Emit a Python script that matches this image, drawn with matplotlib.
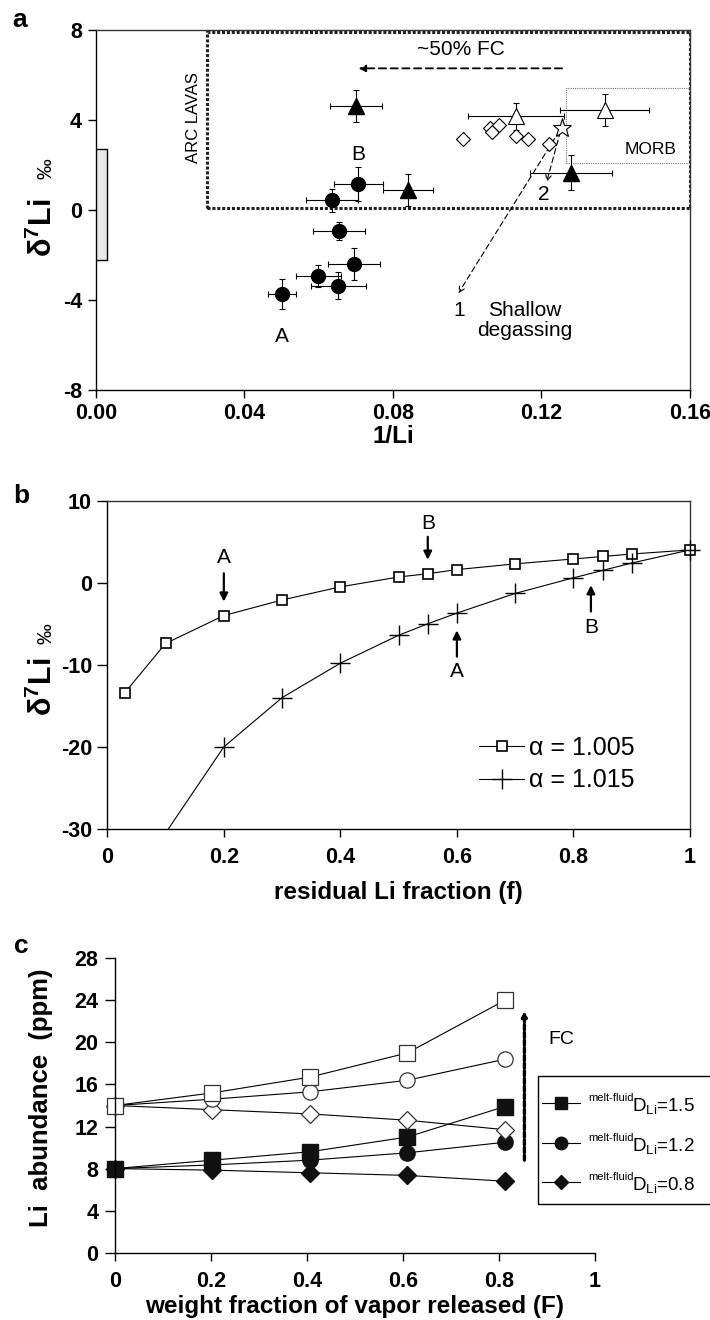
import numpy as np
import matplotlib.pyplot as plt
from matplotlib.patches import Rectangle
from matplotlib.lines import Line2D

plt.rcParams['font.family'] = ['Liberation Sans', 'DejaVu Sans']
plt.rcParams['mathtext.fontset'] = 'custom'
plt.rcParams['mathtext.rm'] = 'Liberation Sans'
plt.rcParams['mathtext.bf'] = 'Liberation Sans:bold'
plt.rcParams['mathtext.it'] = 'Liberation Sans:italic'

# ---- panel a: d7Li vs 1/Li ----
circ_x = [0.0500, 0.0599, 0.0653, 0.0695, 0.0655, 0.0635, 0.0707]
circ_y = [-3.73, -2.92, -3.36, -2.40, -0.93, 0.43, 1.17]
circ_xerr = [0.0038, 0.0060, 0.0073, 0.0070, 0.0070, 0.0070, 0.0065]
circ_yerr = [0.65, 0.50, 0.60, 0.70, 0.40, 0.50, 0.75]

tri_x = [0.0700, 0.0841, 0.1280]
tri_y = [4.62, 0.89, 1.66]
tri_xerr = [0.0070, 0.0068, 0.0110]
tri_yerr = [0.70, 0.70, 0.78]

otri_x = [0.1131, 0.1370]
otri_y = [4.18, 4.44]
otri_xerr = [0.0129, 0.0119]
otri_yerr = [0.60, 0.70]

dia_x = [0.0988, 0.1061, 0.1068, 0.1086, 0.1131, 0.1165, 0.1219]
dia_y = [3.14, 3.63, 3.48, 3.76, 3.29, 3.14, 2.93]

star_x, star_y = 0.1254, 3.67

# ---- panel b: Rayleigh curves ----
f_a = [0.03, 0.1, 0.2, 0.3, 0.4, 0.5, 0.55, 0.6, 0.7, 0.8, 0.85, 0.9, 1.0]
d_a = [-13.4, -7.4, -4.0, -2.1, -0.5, 0.7, 1.1, 1.6, 2.3, 2.9, 3.2, 3.5, 4.0]
f_b = [0.1, 0.2, 0.3, 0.4, 0.5, 0.55, 0.6, 0.7, 0.8, 0.85, 0.9, 1.0]
d_b = [-30.5, -20.0, -14.0, -9.8, -6.4, -5.0, -3.7, -1.3, 0.6, 1.5, 2.4, 4.0]

# ---- panel c: Li abundance vs vapor fraction ----
F = [0, 0.203, 0.406, 0.609, 0.812]
open_sq = [14.0, 15.2, 16.7, 19.0, 24.0]
open_ci = [14.0, 14.6, 15.3, 16.4, 18.4]
open_di = [14.0, 13.6, 13.2, 12.6, 11.7]
fill_sq = [8.0, 8.8, 9.6, 11.0, 13.9]
fill_ci = [8.0, 8.35, 8.8, 9.5, 10.5]
fill_di = [8.0, 7.85, 7.6, 7.35, 6.8]
leg_c = ['1.5', '1.2', '0.8']

TICK = dict(fontsize=15.5, fontweight='bold')
LAB = dict(fontsize=17.5, fontweight='bold')
NOTE = 15

fig = plt.figure(figsize=(7.1, 13.2), dpi=100)
ax_a = fig.add_axes([0.1352, 0.7045, 0.8366, 0.2727])
ax_b = fig.add_axes([0.1511, 0.372, 0.8207, 0.2487])
ax_c = fig.add_axes([0.162, 0.051, 0.676, 0.223])

for ax in (ax_a, ax_b, ax_c):
    ax.tick_params(direction='out', length=6, width=1, pad=4)
    for s in ax.spines.values():
        s.set_linewidth(1)


def delta_label(ax, x, y_d, y_pm):
    ax.text(x, y_d, r'$\mathbf{\delta^{7}Li}$', transform=ax.transAxes, rotation=90,
            ha='center', va='center', fontsize=22)
    ax.text(x + 0.004, y_pm, '‰', transform=ax.transAxes, rotation=90,
            ha='center', va='center', fontsize=15)


# panel a
ax_a.set_xlim(0, 0.16)
ax_a.set_ylim(-8, 8)
ax_a.set_xticks([0, 0.04, 0.08, 0.12, 0.16])
ax_a.set_xticklabels(['0.00', '0.04', '0.08', '0.12', '0.16'], **TICK)
ax_a.set_yticks([-8, -4, 0, 4, 8])
ax_a.set_yticklabels(['-8', '-4', '0', '4', '8'], **TICK)
ax_a.tick_params(axis='x', pad=3)
ax_a.spines['right'].set_color('#333')
ax_a.spines['top'].set_color('#333')

ax_a.add_patch(Rectangle((0, -2.2), 0.003, 4.9, fc='#e8e8e8', ec='k', lw=1, zorder=3))
ax_a.add_patch(Rectangle((0.03, 0.1), 0.13, 7.8, fill=False, ls=(0, (1, 0.6)), lw=2.2, ec='#222'))
ax_a.add_patch(Rectangle((0.1265, 2.08), 0.0335, 3.35, fill=False, ls=(0, (1, 1)), lw=0.8, ec='#777'))

eb = dict(ecolor='k', elinewidth=0.8, capsize=2.5, capthick=0.8, mec='k', zorder=4)
ax_a.errorbar(circ_x, circ_y, xerr=circ_xerr, yerr=circ_yerr, fmt='o', ms=10, mfc='k', **eb)
ax_a.errorbar(tri_x, tri_y, xerr=tri_xerr, yerr=tri_yerr, fmt='^', ms=11, mfc='k', **eb)
ax_a.errorbar(otri_x, otri_y, xerr=otri_xerr, yerr=otri_yerr, fmt='^', ms=11, mfc='white', mew=0.8, **eb)
ax_a.plot(dia_x, dia_y, 'D', ms=7.5, mfc='white', mec='k', mew=0.8, ls='none', zorder=4)
ax_a.plot([star_x], [star_y], marker='*', ms=14, mfc='white', mec='k', mew=0.8, ls='none', zorder=5)

ax_a.annotate('', xy=(0.070, 6.3), xytext=(0.1263, 6.3),
              arrowprops=dict(arrowstyle='-|>', ls=(0, (4, 2.5)), lw=1.3, color='k', mutation_scale=10))
ax_a.text(0.0983, 6.7, '~50% FC', ha='center', va='bottom', fontsize=15)
ax_a.annotate('', xy=(0.0976, -3.7), xytext=(star_x, star_y),
              arrowprops=dict(arrowstyle='->', ls=(0, (5, 3)), lw=0.8, color='k', shrinkA=3, shrinkB=0))
ax_a.annotate('', xy=(0.1214, 1.26), xytext=(star_x, star_y),
              arrowprops=dict(arrowstyle='->', ls=(0, (5, 3)), lw=0.8, color='k', shrinkA=3, shrinkB=0))
ax_a.text(0.0978, -4.45, '1', ha='center', va='center', fontsize=NOTE)
ax_a.text(0.1207, 0.7, '2', ha='center', va='center', fontsize=NOTE)
ax_a.text(0.1156, -4.9, 'Shallow\ndegassing', ha='center', va='center', fontsize=NOTE, linespacing=1.1)
ax_a.text(0.0264, 4.1, 'ARC LAVAS', rotation=90, ha='center', va='center', fontsize=12)
ax_a.text(0.1495, 2.7, 'MORB', ha='center', va='center', fontsize=12.5)
ax_a.text(0.0500, -5.6, 'A', ha='center', va='center', fontsize=NOTE)
ax_a.text(0.0707, 2.45, 'B', ha='center', va='center', fontsize=NOTE)

ax_a.set_xlabel('1/Li', labelpad=1, **LAB)
delta_label(ax_a, -0.089, 0.451, 0.614)

# panel b
ax_b.set_xlim(0, 1)
ax_b.set_ylim(-30, 10)
ax_b.set_xticks([0, 0.2, 0.4, 0.6, 0.8, 1.0])
ax_b.set_xticklabels(['0', '0.2', '0.4', '0.6', '0.8', '1'], **TICK)
ax_b.set_yticks([-30, -20, -10, 0, 10])
ax_b.set_yticklabels(['-30', '-20', '-10', '0', '10'], **TICK)
ax_b.tick_params(axis='y', length=7)
ax_b.tick_params(axis='x', pad=7)
ax_b.spines['right'].set_color('#333')
ax_b.spines['top'].set_color('#333')

ax_b.plot(f_a, d_a, '-s', color='k', lw=0.8, ms=7.5, mfc='white', mec='k', mew=1.2, clip_on=False, zorder=4)
ax_b.plot(f_b, d_b, '-', color='k', lw=0.8, zorder=3)
ax_b.plot(f_b[1:], d_b[1:], '+', color='k', ms=15, mew=1.0, clip_on=False, zorder=4)

handles = [Line2D([], [], color='k', lw=0.8, marker='s', ms=7.5, mfc='white', mew=1.2),
           Line2D([], [], color='k', lw=0.8, marker='+', ms=15, mew=1.0)]
ax_b.legend(handles, ['α = 1.005', 'α = 1.015'], loc='center left', bbox_to_anchor=(0.6, 0.198),
            frameon=False, fontsize=18, handlelength=1.8, handletextpad=0.2, labelspacing=0.35)

arr = dict(arrowstyle='-|>', lw=1.6, color='k', mutation_scale=12, shrinkA=0, shrinkB=0)
ax_b.annotate('', xy=(0.2, -2.3), xytext=(0.2, 1.15), arrowprops=arr)
ax_b.text(0.2, 3.1, 'A', ha='center', va='center', fontsize=NOTE)
ax_b.annotate('', xy=(0.55, 2.8), xytext=(0.55, 5.6), arrowprops=arr)
ax_b.text(0.55, 7.2, 'B', ha='center', va='center', fontsize=NOTE)
ax_b.annotate('', xy=(0.6, -5.8), xytext=(0.6, -9.0), arrowprops=arr)
ax_b.text(0.6, -10.85, 'A', ha='center', va='center', fontsize=NOTE)
ax_b.annotate('', xy=(0.83, -0.3), xytext=(0.83, -3.5), arrowprops=arr)
ax_b.text(0.83, -5.4, 'B', ha='center', va='center', fontsize=NOTE)

ax_b.set_xlabel('residual Li fraction (f)', labelpad=9, **LAB)
delta_label(ax_b, -0.11, 0.4325, 0.594)

# panel c
ax_c.set_xlim(0, 1)
ax_c.set_ylim(0, 28)
ax_c.set_xticks([0, 0.2, 0.4, 0.6, 0.8, 1.0])
ax_c.set_xticklabels(['0', '0.2', '0.4', '0.6', '0.8', '1'], **TICK)
ax_c.set_yticks([0, 4, 8, 12, 16, 20, 24, 28])
ax_c.set_yticklabels(['0', '4', '8', '12', '16', '20', '24', '28'], **TICK)
ax_c.tick_params(axis='y', length=7, pad=5)
ax_c.tick_params(axis='x', pad=7)
ax_c.spines['right'].set_visible(False)
ax_c.spines['top'].set_visible(False)

ln = dict(color='k', lw=0.8, clip_on=False)
ax_c.plot(F, fill_di, '-D', ms=9, mfc='#111', mec='#111', **ln)
ax_c.plot(F, fill_ci, '-o', ms=11, mfc='#111', mec='#111', **ln)
ax_c.plot(F, fill_sq, '-s', ms=11, mfc='#111', mec='#111', **ln)
ax_c.plot(F, open_di, '-D', ms=9, mfc='white', mec='#333', mew=0.9, **ln)
ax_c.plot(F, open_ci, '-o', ms=11, mfc='white', mec='#333', mew=0.9, **ln)
ax_c.plot(F, open_sq, '-s', ms=11, mfc='white', mec='#333', mew=0.9, **ln)

ax_c.annotate('', xy=(0.853, 23.0), xytext=(0.853, 8.8),
              arrowprops=dict(arrowstyle='-|>', ls=(0, (1.5, 0.8)), lw=2.4, color='k',
                              mutation_scale=7, shrinkA=0, shrinkB=0))
ax_c.text(0.903, 20.3, 'FC', ha='left', va='center', fontsize=14)

# legend for panel c (box runs past the right edge of the figure)
ax_c.add_patch(Rectangle((0.882, 0.165), 0.6, 0.436, transform=ax_c.transAxes, fill=False,
                         ec='k', lw=1, clip_on=False))
leg_y = [0.508, 0.373, 0.240]
leg_m = ['s', 'o', 'D']
leg_ms = [9, 9, 7.5]
for yy, mk, ms, val in zip(leg_y, leg_m, leg_ms, leg_c):
    ax_c.plot([0.889, 0.929, 0.969], [yy, yy, yy], transform=ax_c.transAxes, color='k', lw=0.8,
              marker=mk, ms=ms, mfc='#111', mec='#111', markevery=[1], clip_on=False)
    ax_c.text(0.986, yy + 0.016, 'melt-fluid', transform=ax_c.transAxes, ha='left', va='center',
              fontsize=8)
    ax_c.text(1.078, yy - 0.010, r'D$_{\mathregular{Li}}$=' + val, transform=ax_c.transAxes,
              ha='left', va='center', fontsize=13.5)

ax_c.set_xlabel('weight fraction of vapor released (F)', labelpad=2, **LAB)
ax_c.text(-0.155, 0.527, 'Li  abundance  (ppm)', transform=ax_c.transAxes, rotation=90,
          ha='center', va='center', fontsize=18.5, fontweight='bold')

fig.text(0.028, 0.985, 'a', fontsize=19, fontweight='bold', ha='center', va='center')
fig.text(0.030, 0.624, 'b', fontsize=19, fontweight='bold', ha='center', va='center')
fig.text(0.030, 0.283, 'c', fontsize=19, fontweight='bold', ha='center', va='center')

fig.savefig('out.png', dpi=100)
